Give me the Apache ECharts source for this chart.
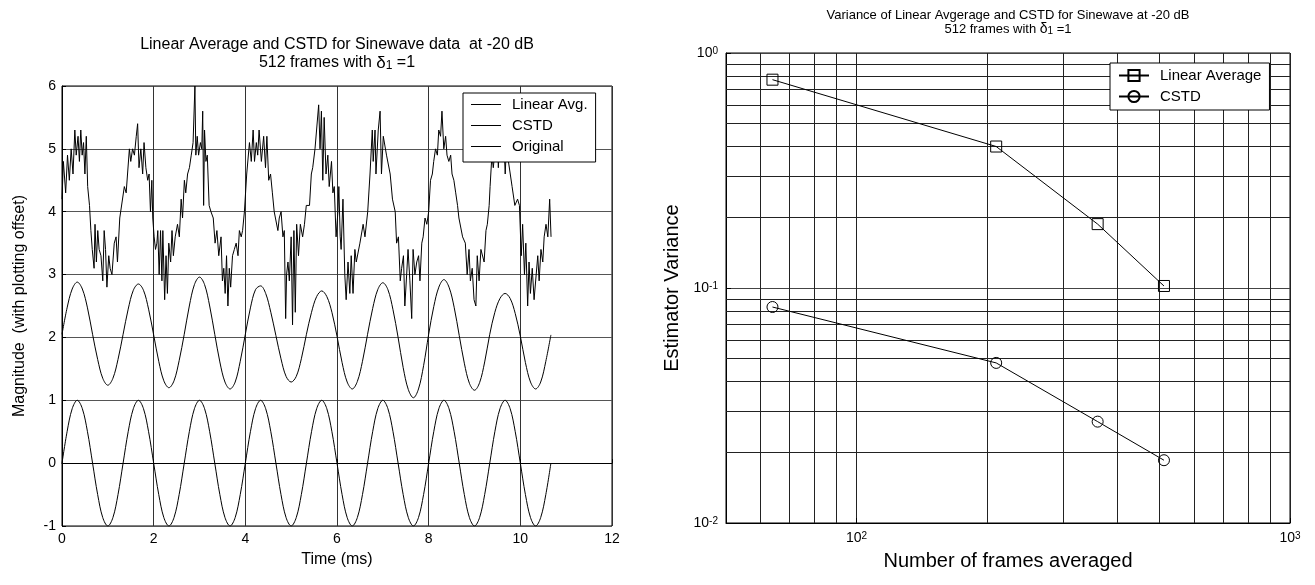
<!DOCTYPE html>
<html>
<head>
<meta charset="utf-8">
<title>Linear Average and CSTD</title>
<script src="https://cdn.jsdelivr.net/npm/echarts@6/dist/echarts.min.js"></script>
<style>
  html, body { margin: 0; padding: 0; background: #fff; }
  #chart { width: 1315px; height: 585px; }
</style>
</head>
<body>
<div id="chart"></div>
<script>
// Left panel: time base (ms) shared by the two clean traces
const sampleTimeMs = [
  0, 0.111, 0.222, 0.333, 0.444, 0.556, 0.667, 0.778, 0.889,
  1, 1.111, 1.222, 1.333, 1.444, 1.556, 1.667, 1.778, 1.889,
  2, 2.111, 2.222, 2.333, 2.444, 2.556, 2.667, 2.778, 2.889,
  3, 3.111, 3.222, 3.333, 3.444, 3.556, 3.667, 3.778, 3.889,
  4, 4.111, 4.222, 4.333, 4.444, 4.556, 4.667, 4.778, 4.889,
  5, 5.111, 5.222, 5.333, 5.444, 5.556, 5.667, 5.778, 5.889,
  6, 6.111, 6.222, 6.333, 6.444, 6.556, 6.667, 6.778, 6.889,
  7, 7.111, 7.222, 7.333, 7.444, 7.556, 7.667, 7.778, 7.889,
  8, 8.111, 8.222, 8.333, 8.444, 8.556, 8.667, 8.778, 8.889,
  9, 9.111, 9.222, 9.333, 9.444, 9.556, 9.667, 9.778, 9.889,
  10, 10.111, 10.222, 10.333, 10.444, 10.556, 10.667
];

// "Original" sinewave (no offset)
const originalSignal = [
  0, 0.5, 0.866, 1, 0.866, 0.5, 0, -0.5, -0.866, -1, -0.866, -0.5,
  0, 0.5, 0.866, 1, 0.866, 0.5, 0, -0.5, -0.866, -1, -0.866, -0.5,
  0, 0.5, 0.866, 1, 0.866, 0.5, 0, -0.5, -0.866, -1, -0.866, -0.5,
  0, 0.5, 0.866, 1, 0.866, 0.5, 0, -0.5, -0.866, -1, -0.866, -0.5,
  0, 0.5, 0.866, 1, 0.866, 0.5, 0, -0.5, -0.866, -1, -0.866, -0.5,
  0, 0.5, 0.866, 1, 0.866, 0.5, 0, -0.5, -0.866, -1, -0.866, -0.5,
  0, 0.5, 0.866, 1, 0.866, 0.5, 0, -0.5, -0.866, -1, -0.866, -0.5,
  0, 0.5, 0.866, 1, 0.866, 0.5, 0, -0.5, -0.866, -1, -0.866, -0.5,
  0
];

// CSTD estimate (plotted with +2 offset)
const cstdSignal = [
  2.05, 2.47, 2.77, 2.88, 2.77, 2.47, 2.05, 1.65, 1.35, 1.24, 1.35, 1.65,
  2.05, 2.45, 2.75, 2.85, 2.75, 2.45, 2.04, 1.62, 1.31, 1.20, 1.31, 1.63,
  2.05, 2.50, 2.84, 2.96, 2.84, 2.50, 2.05, 1.61, 1.29, 1.18, 1.29, 1.62,
  2.05, 2.47, 2.76, 2.82, 2.70, 2.40, 2.03, 1.66, 1.38, 1.29, 1.38, 1.66,
  2.05, 2.40, 2.65, 2.74, 2.65, 2.40, 2.02, 1.60, 1.29, 1.18, 1.30, 1.62,
  2.05, 2.46, 2.76, 2.87, 2.76, 2.44, 2.00, 1.52, 1.17, 1.04, 1.18, 1.55,
  2.05, 2.49, 2.80, 2.92, 2.80, 2.48, 2.03, 1.59, 1.27, 1.16, 1.28, 1.61,
  2.05, 2.40, 2.62, 2.70, 2.62, 2.38, 2.02, 1.60, 1.29, 1.18, 1.29, 1.62,
  2.04
];

// Linear average (plotted with +4 offset), [time ms, value]
const linearAvgPoints = [
  [0, 4.2], [0.03, 4.8], [0.08, 4.3], [0.12, 4.9], [0.16, 4.5], [0.2, 5.0], [0.24, 4.6], [0.28, 5.3],
  [0.31, 4.9], [0.35, 5.2], [0.38, 4.8], [0.41, 5.3], [0.44, 4.9], [0.47, 5.1], [0.5, 4.6], [0.53, 5.2],
  [0.56, 4.4], [0.6, 4.1], [0.63, 3.7], [0.66, 3.4], [0.7, 3.1], [0.72, 3.8], [0.75, 3.2], [0.78, 3.7],
  [0.81, 3.4], [0.85, 3.3], [0.89, 2.9], [0.92, 3.7], [0.95, 3.4], [0.98, 2.8], [1.02, 3.3], [1.05, 3.1],
  [1.09, 3.0], [1.14, 3.5], [1.18, 3.6], [1.21, 3.2], [1.26, 3.9], [1.3, 3.9], [1.36, 4.4], [1.4, 4.3],
  [1.43, 4.6], [1.47, 5.0], [1.5, 4.8], [1.54, 5.0], [1.58, 4.9], [1.62, 5.2], [1.65, 5.4], [1.68, 4.7],
  [1.72, 5.0], [1.76, 4.6], [1.79, 5.1], [1.83, 4.7], [1.87, 4.5], [1.9, 4.6], [1.93, 4.0], [1.96, 4.5],
  [1.98, 3.9], [2.01, 3.6], [2.04, 3.4], [2.07, 3.5], [2.09, 3.7], [2.12, 3.0], [2.15, 3.7], [2.18, 2.9],
  [2.2, 3.7], [2.24, 2.6], [2.27, 3.3], [2.3, 2.7], [2.33, 3.5], [2.37, 3.2], [2.4, 3.7], [2.43, 3.3],
  [2.47, 3.6], [2.52, 3.8], [2.56, 3.6], [2.6, 4.2], [2.63, 3.9], [2.67, 4.5], [2.7, 4.3], [2.74, 4.6],
  [2.78, 4.7], [2.82, 4.9], [2.86, 5.1], [2.9, 6.0], [2.92, 4.9], [2.95, 5.2], [2.98, 4.9], [3.02, 5.1],
  [3.05, 5.0], [3.07, 5.6], [3.09, 4.1], [3.11, 5.3], [3.14, 4.8], [3.17, 4.9], [3.21, 4.1], [3.25, 4.0],
  [3.3, 3.9], [3.34, 3.5], [3.38, 3.7], [3.42, 3.3], [3.47, 3.6], [3.5, 2.9], [3.53, 3.1], [3.56, 2.7],
  [3.59, 3.3], [3.62, 2.5], [3.65, 3.1], [3.68, 2.8], [3.72, 3.3], [3.76, 3.4], [3.8, 3.5], [3.84, 3.3],
  [3.87, 3.7], [3.91, 3.6], [3.94, 3.7], [3.98, 4.0], [4.03, 4.6], [4.06, 4.6], [4.09, 5.1], [4.13, 4.8],
  [4.17, 5.3], [4.2, 4.8], [4.24, 5.1], [4.27, 4.9], [4.3, 5.3], [4.35, 4.8], [4.4, 5.2], [4.44, 4.7],
  [4.47, 5.2], [4.51, 4.5], [4.55, 4.6], [4.59, 4.3], [4.63, 4.0], [4.67, 4.0], [4.71, 3.7], [4.74, 3.9],
  [4.78, 4.0], [4.82, 3.6], [4.85, 3.7], [4.88, 2.3], [4.9, 3.0], [4.93, 3.2], [4.96, 2.9], [5.0, 3.6],
  [5.03, 2.2], [5.06, 3.7], [5.09, 2.4], [5.12, 3.8], [5.16, 3.3], [5.2, 3.8], [5.25, 3.6], [5.29, 3.8],
  [5.33, 4.1], [5.4, 4.1], [5.44, 4.6], [5.47, 4.7], [5.52, 5.0], [5.56, 5.0], [5.6, 5.7], [5.63, 5.0],
  [5.66, 5.6], [5.69, 4.5], [5.72, 5.5], [5.76, 4.6], [5.8, 4.9], [5.83, 4.4], [5.88, 4.8], [5.91, 4.3],
  [5.94, 4.4], [5.98, 3.6], [6.02, 4.0], [6.04, 4.4], [6.07, 3.6], [6.09, 3.4], [6.13, 4.2], [6.17, 3.0],
  [6.2, 2.6], [6.24, 3.2], [6.28, 2.7], [6.31, 3.3], [6.35, 2.7], [6.39, 3.4], [6.42, 3.2], [6.5, 3.5],
  [6.57, 3.8], [6.61, 3.6], [6.67, 4.0], [6.72, 4.6], [6.77, 5.3], [6.79, 4.8], [6.83, 5.3], [6.85, 4.6],
  [6.9, 5.3], [6.94, 5.6], [6.97, 4.6], [7.01, 5.2], [7.08, 4.9], [7.16, 4.6], [7.21, 4.2], [7.27, 4.0],
  [7.3, 3.5], [7.34, 3.6], [7.38, 2.9], [7.41, 3.1], [7.45, 3.3], [7.48, 2.5], [7.52, 3.0], [7.55, 3.4],
  [7.59, 2.9], [7.63, 2.3], [7.66, 3.4], [7.7, 3.0], [7.74, 3.2], [7.78, 3.3], [7.81, 2.9], [7.85, 3.5],
  [7.88, 3.6], [7.92, 3.9], [7.96, 3.8], [8.0, 4.0], [8.04, 4.5], [8.08, 4.6], [8.11, 4.8], [8.15, 5.0],
  [8.19, 4.9], [8.22, 5.3], [8.26, 5.2], [8.29, 5.6], [8.33, 5.0], [8.37, 5.2], [8.4, 4.9], [8.44, 4.8],
  [8.48, 4.9], [8.51, 4.6], [8.55, 4.5], [8.59, 4.3], [8.63, 4.1], [8.66, 3.9], [8.7, 3.9], [8.74, 3.6],
  [8.8, 3.5], [8.84, 3.0], [8.88, 3.4], [8.91, 2.9], [8.95, 3.1], [8.99, 2.6], [9.03, 2.5], [9.06, 3.3],
  [9.1, 2.9], [9.14, 3.4], [9.17, 3.4], [9.21, 3.2], [9.25, 3.7], [9.28, 3.8], [9.32, 4.1], [9.34, 4.4],
  [9.38, 4.9], [9.41, 4.7], [9.45, 5.0], [9.49, 5.4], [9.52, 4.7], [9.56, 5.3], [9.59, 4.8], [9.63, 5.3],
  [9.67, 4.6], [9.7, 5.1], [9.74, 4.8], [9.78, 4.6], [9.82, 4.4], [9.88, 4.1], [9.94, 4.2], [9.98, 4.1],
  [10.02, 3.3], [10.05, 3.8], [10.09, 3.0], [10.12, 3.5], [10.16, 2.5], [10.19, 3.2], [10.22, 2.7], [10.26, 3.1],
  [10.3, 2.6], [10.34, 2.6], [10.38, 3.3], [10.41, 2.9], [10.45, 3.4], [10.49, 3.2], [10.52, 3.6], [10.56, 3.8],
  [10.6, 3.6], [10.64, 4.2], [10.67, 3.6]
];

// Right panel: estimator variance vs number of frames
const framesAveraged = [64, 210, 360, 512];
const linearAvgVariance = [0.77, 0.40, 0.187, 0.102];
const cstdVariance = [0.083, 0.048, 0.027, 0.0185];

// log grid lines between the decades
const xMinorGrid = [60, 70, 80, 90, 200, 300, 400, 500, 600, 700, 800, 900];
const yMinorGrid = [0.02, 0.03, 0.04, 0.05, 0.06, 0.07, 0.08, 0.09, 0.2, 0.3, 0.4, 0.5, 0.6, 0.7, 0.8, 0.9];

const FONT = "'Liberation Sans', Arial, Helvetica, sans-serif";
const LINE_ICON = 'path://M0,0H30V1H0Z';

const pairs = (xs, ys) => xs.map((x, i) => [x, ys[i]]);

const powerLabel = value => {
  const p = Math.log10(value);
  if (Math.abs(p - Math.round(p)) > 1e-6) return '';
  return '10{sup|' + Math.round(p) + '}';
};

const powerRich = {
  sup: { fontSize: 10, verticalAlign: 'top', lineHeight: 10, fontFamily: FONT, color: '#000' }
};

const deltaRich = {
  g: { fontSize: 17, lineHeight: 18, padding: [5, 0, 0, 0], verticalAlign: 'bottom', fontFamily: FONT, color: '#000' },
  s: { fontSize: 12, lineHeight: 12, padding: [10, 0, 0, 0], verticalAlign: 'bottom', fontFamily: FONT, color: '#000' }
};

const chart = echarts.init(document.getElementById('chart'));

const option = {
  animation: false,
  backgroundColor: '#fff',
  textStyle: { fontFamily: FONT, color: '#000' },
  title: [
    {
      text: 'Linear Average and CSTD for Sinewave data  at -20 dB\n512 frames with {g|δ}{s|1} =1',
      left: 337, top: 36, textAlign: 'center', padding: 0,
      textStyle: { fontSize: 16, fontWeight: 'normal', color: '#000', fontFamily: FONT, lineHeight: 18, rich: deltaRich }
    },
    {
      text: 'Variance of Linear Avgerage and CSTD for Sinewave at -20 dB\n512 frames with {g|δ}{s|1} =1',
      left: 1008, top: 8, textAlign: 'center', padding: 0,
      textStyle: { fontSize: 13, fontWeight: 'normal', color: '#000', fontFamily: FONT, lineHeight: 14,
        rich: {
          g: { fontSize: 14, lineHeight: 14, padding: [4, 0, 0, 0], verticalAlign: 'bottom', fontFamily: FONT, color: '#000' },
          s: { fontSize: 10, lineHeight: 10, padding: [8, 0, 0, 0], verticalAlign: 'bottom', fontFamily: FONT, color: '#000' }
        }
      }
    }
  ],
  legend: [
    {
      data: ['Linear Avg.', 'CSTD', 'Original'],
      icon: LINE_ICON,
      orient: 'vertical', left: 463, top: 93, z: 20,
      padding: [4, 8, 8, 8], itemGap: 6, itemWidth: 30, itemHeight: 14,
      backgroundColor: '#fff', borderColor: '#000', borderWidth: 1, borderRadius: 0,
      selectedMode: false,
      textStyle: { fontSize: 15, color: '#000', fontFamily: FONT, width: 84, padding: [0, 0, 0, 6] }
    },
    {
      data: ['Linear Average', 'CSTD variance'],
      formatter: name => name === 'CSTD variance' ? 'CSTD' : name,
      orient: 'vertical', left: 1110, top: 63, z: 20,
      padding: [5, 8, 6, 8], itemGap: 6, itemWidth: 30, itemHeight: 14,
      backgroundColor: '#fff', borderColor: '#000', borderWidth: 1, borderRadius: 0,
      selectedMode: false,
      textStyle: { fontSize: 15, color: '#000', fontFamily: FONT, width: 124, padding: [0, 0, 0, 6] }
    }
  ],
  grid: [
    { left: 62, top: 86, width: 550, height: 440, show: true, borderColor: '#000', borderWidth: 1, backgroundColor: 'transparent' },
    { left: 726, top: 53, width: 564, height: 470, show: true, borderColor: '#000', borderWidth: 1, backgroundColor: 'transparent' }
  ],
  xAxis: [
    {
      gridIndex: 0, type: 'value', min: 0, max: 12, interval: 2,
      name: 'Time (ms)', nameLocation: 'middle', nameGap: 26,
      nameTextStyle: { fontSize: 16, color: '#000', fontFamily: FONT },
      axisLine: { lineStyle: { color: '#000', width: 1 } },
      axisTick: { inside: true, length: 4, lineStyle: { color: '#000' } },
      axisLabel: { fontSize: 14, color: '#000', margin: 6, fontFamily: FONT },
      splitLine: { show: true, lineStyle: { color: '#333', width: 1 } }
    },
    {
      gridIndex: 1, type: 'log', logBase: 10, min: 50, max: 1000,
      name: 'Number of frames averaged', nameLocation: 'middle', nameGap: 28,
      nameTextStyle: { fontSize: 20, color: '#000', fontFamily: FONT },
      axisLine: { lineStyle: { color: '#000', width: 1 } },
      axisTick: { inside: true, length: 5, lineStyle: { color: '#000' } },
      axisLabel: { fontSize: 14, color: '#000', margin: 8, fontFamily: FONT, formatter: powerLabel, rich: powerRich },
      splitLine: { show: true, lineStyle: { color: '#222', width: 1 } }
    }
  ],
  yAxis: [
    {
      gridIndex: 0, type: 'value', min: -1, max: 6, interval: 1,
      name: 'Magnitude  (with plotting offset)', nameLocation: 'middle', nameGap: 34,
      nameTextStyle: { fontSize: 16, color: '#000', fontFamily: FONT },
      axisLine: { lineStyle: { color: '#000', width: 1 } },
      axisTick: { inside: true, length: 4, lineStyle: { color: '#000' } },
      axisLabel: { fontSize: 14, color: '#000', margin: 6, fontFamily: FONT },
      splitLine: { show: true, lineStyle: { color: '#555', width: 1 } }
    },
    {
      gridIndex: 1, type: 'log', logBase: 10, min: 0.01, max: 1,
      name: 'Estimator Variance', nameLocation: 'middle', nameGap: 44,
      nameTextStyle: { fontSize: 20, color: '#000', fontFamily: FONT },
      axisLine: { lineStyle: { color: '#000', width: 1 } },
      axisTick: { inside: true, length: 5, lineStyle: { color: '#000' } },
      axisLabel: { fontSize: 14, color: '#000', margin: 8, fontFamily: FONT, formatter: powerLabel, rich: powerRich },
      splitLine: { show: true, lineStyle: { color: '#444', width: 1 } }
    }
  ],
  series: [
    {
      name: 'Linear Avg.', type: 'line', xAxisIndex: 0, yAxisIndex: 0,
      data: linearAvgPoints, symbol: 'none', color: '#000',
      lineStyle: { color: '#000', width: 1 }, z: 3
    },
    {
      name: 'CSTD', type: 'line', xAxisIndex: 0, yAxisIndex: 0,
      data: pairs(sampleTimeMs, cstdSignal), symbol: 'none', smooth: 0.35, color: '#000',
      lineStyle: { color: '#000', width: 1 }, z: 3
    },
    {
      name: 'Original', type: 'line', xAxisIndex: 0, yAxisIndex: 0,
      data: pairs(sampleTimeMs, originalSignal), symbol: 'none', smooth: 0.35, color: '#000',
      lineStyle: { color: '#000', width: 1 }, z: 3
    },
    {
      name: 'Linear Average', type: 'line', xAxisIndex: 1, yAxisIndex: 1,
      data: pairs(framesAveraged, linearAvgVariance),
      symbol: 'rect', symbolSize: 11, color: '#000',
      itemStyle: { color: 'rgba(0,0,0,0)', borderColor: '#000', borderWidth: 1 },
      lineStyle: { color: '#000', width: 1 }, z: 3,
      markLine: {
        silent: true, symbol: ['none', 'none'], label: { show: false }, animation: false, z: 1,
        lineStyle: { color: '#222', width: 1, type: 'solid' },
        emphasis: { disabled: true },
        data: xMinorGrid.map(v => ({ xAxis: v })).concat(yMinorGrid.map(v => ({ yAxis: v })))
      }
    },
    {
      name: 'CSTD variance', type: 'line', xAxisIndex: 1, yAxisIndex: 1,
      data: pairs(framesAveraged, cstdVariance),
      symbol: 'circle', symbolSize: 11, color: '#000',
      itemStyle: { color: 'rgba(0,0,0,0)', borderColor: '#000', borderWidth: 1 },
      lineStyle: { color: '#000', width: 1 }, z: 3
    }
  ]
};

chart.setOption(option);
</script>
</body>
</html>
